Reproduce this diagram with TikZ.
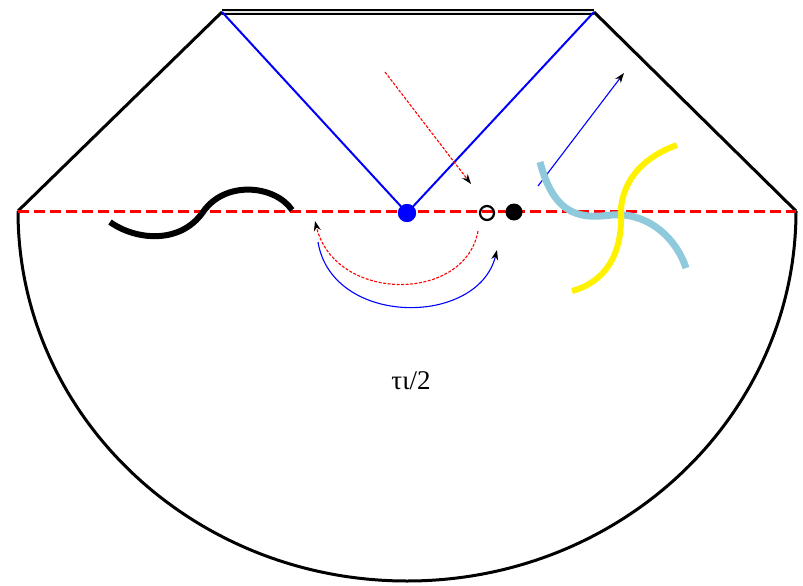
\documentclass[tikz,border=0pt]{standalone}
\usepackage{fontspec}
\setmainfont{Liberation Serif}
\usetikzlibrary{arrows.meta}
\definecolor{lblue}{HTML}{8FC9DC}
\begin{document}
\begin{tikzpicture}[x=1pt,y=-1pt,
  outline/.style={line width=3pt, black, line join=round},
  topline/.style={line width=1.5pt, black, double=white!80!gray, double distance=2.4pt},
  cone/.style={blue, line width=2pt},
  axisline/.style={red, line width=3pt, dash pattern=on 11pt off 5pt},
  thinred/.style={red, line width=1.1pt, dash pattern=on 3pt off 1.5pt, -{Stealth[black,length=10pt,width=7pt]}},
  thinblue/.style={blue, line width=1.1pt, -{Stealth[black,length=10pt,width=7pt]}},
  thick curve/.style={line width=6pt},
  dot/.style={circle, inner sep=0pt, minimum size=#1},
]
\useasboundingbox (0,0) rectangle (803,586);
% corners
\coordinate (L) at (18,211);
\coordinate (R) at (796,211);
\coordinate (TL) at (222,12);
\coordinate (TR) at (594,12);
% outline
\draw[outline] (L) -- (TL);
\draw[outline] (R) -- (TR);
\draw[outline] (L) arc[start angle=180, end angle=360, x radius=389pt, y radius=370pt];
\draw[topline] (TL) -- (TR);
% axis
\draw[axisline] (L) -- (R);
% points
\node[dot=18pt, fill=blue] (P) at (407,213) {};
\node[dot=14pt, draw=black, line width=2.2pt, fill=none] (O) at (487,213) {};
\node[dot=17pt, fill=black] (B) at (514,212) {};
% light cone
\draw[cone] (TL) -- (P.center);
\draw[cone] (TR) -- (P.center);
\node[dot=18pt, fill=blue] at (P) {};
% thin arrows
\coordinate (r1) at (385,72);
\coordinate (r2) at (471,184);
\draw[thinred] (r1) -- (r2);
\coordinate (b1) at (538,186);
\coordinate (b2) at (624,73);
\draw[thinblue] (b1) -- (b2);
% arcs
\coordinate (ra) at (478,231);
\coordinate (rb) at (315,221);
\draw[thinred] (ra) .. controls (465,303) and (335,303) .. (rb);
\coordinate (ba) at (318,242);
\coordinate (bb) at (497,250);
\draw[thinblue] (ba) .. controls (332,327) and (478,327) .. (bb);
% wavy curves
\coordinate (w1) at (110,222);
\coordinate (w2) at (203,212);
\coordinate (w3) at (292,210);
\draw[thick curve, black] (w1) .. controls (135,240) and (180,245) .. (w2)
  .. controls (225,180) and (275,185) .. (w3);
\coordinate (c1) at (540,162);
\coordinate (c2) at (612,215);
\coordinate (c3) at (686,268);
\draw[thick curve, lblue, line width=7pt] (c1) .. controls (555,220) and (585,218) .. (c2)
  .. controls (645,212) and (675,235) .. (c3);
\coordinate (y1) at (677,145);
\coordinate (y2) at (621,215);
\coordinate (y3) at (572,291);
\draw[thick curve, yellow] (y1) .. controls (630,162) and (620,195) .. (y2)
  .. controls (622,255) and (605,282) .. (y3);
% label
\node[font=\fontsize{27}{30}\selectfont] (lab) at (411,381) {τι/2};
\end{tikzpicture}
\end{document}
